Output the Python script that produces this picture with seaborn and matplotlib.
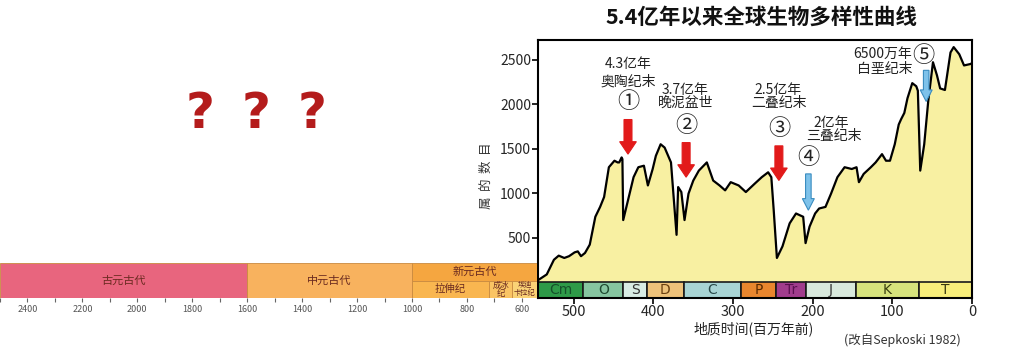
import numpy as np
import pandas as pd
import matplotlib
matplotlib.use("Agg")
import matplotlib.pyplot as plt
import matplotlib.patches as mpatches
import seaborn as sns

# ---------------- data ----------------
ages = [545, 534, 525, 519, 512, 506, 499, 495, 491, 486, 480, 473, 467, 462, 456,
        449, 445, 443, 440, 439, 438, 432, 425, 419, 412, 407, 401, 397, 391, 386,
        378, 375, 371, 369, 365, 361, 356, 350, 343, 333, 325, 317, 310, 303, 293,
        284, 273, 264, 256, 252, 249, 245, 238, 229, 221, 212, 209, 204, 197, 192,
        184, 177, 169, 160, 151, 145, 142, 136, 127, 121, 113, 108, 103, 97, 92,
        89, 85, 81, 75, 70, 68, 65, 60, 55, 49, 44, 40, 34, 27, 23, 16, 10, 2, 0]
genera = [20, 85, 250, 296, 270, 290, 333, 344, 290, 326, 420, 733, 844, 955, 1290,
          1363, 1344, 1344, 1400, 1381, 696, 918, 1178, 1290, 1307, 1085, 1270, 1418, 1548, 1511,
          1344, 993, 530, 1067, 1011, 696, 993, 1140, 1252, 1344, 1140, 1085, 1030, 1122, 1085,
          1011, 1104, 1178, 1233, 1178, 807, 270, 400, 659, 770, 733, 437, 622, 770, 826,
          844, 993, 1178, 1290, 1270, 1290, 1122, 1215, 1290, 1344, 1437, 1363, 1363, 1548, 1770,
          1830, 1900, 2066, 2235, 2200, 2150, 1252, 1548, 2029, 2470, 2323, 2176, 2158, 2580, 2640,
          2560, 2434, 2450, 2460]

period_names = ["Cm", "O", "S", "D", "C", "P", "Tr", "J", "K", "T"]
period_start = [545, 488, 438, 408, 362, 290, 246, 208, 146, 66]
period_end = [488, 438, 408, 362, 290, 246, 208, 146, 66, 0]
period_colors = ["#2E9A48", "#86C5A0", "#D8ECE4", "#EEC27A", "#A8D4D4",
                 "#E8862E", "#A03C8C", "#D8E8DC", "#D6E27C", "#F8EE7A"]
period_text_colors = ["#15502A", "#1F4A30", "#333333", "#6A4010", "#2A4A4A",
                      "#5A2A00", "#5A1050", "#333333", "#3A4010", "#3A3A10"]

era_names = ["古元古代", "中元古代", "新元古代", "拉伸纪", "成冰\n纪", "埃迪\n卡拉纪"]
era_start = [2500, 1600, 1000, 1000, 720, 635]
era_end = [1600, 1000, 545, 720, 635, 545]
era_row = ["full", "full", "top", "bottom", "bottom", "bottom"]
era_colors = ["#E8657E", "#F8B25E", "#F5A640", "#F9B650", "#FAC464", "#FAD276"]
era_font = [8, 8, 8, 7.5, 6, 5.2]

event_text1 = ["4.3亿年", "3.7亿年", "2.5亿年", "2亿年", "6500万年"]
event_text2 = ["奥陶纪末", "晚泥盆世", "二叠纪末", "三叠纪末", "白垩纪末"]
event_nums = ["①", "②", "③", "④", "⑤"]
event_age = [432, 359, 242.5, 205.5, 57.5]
arrow_top = [1826, 1567, 1530, 1215, 2379]
arrow_tip = [1437, 1178, 1141, 807, 2029]
event_kind = ["red", "red", "red", "blue", "blue"]

# ---------------- style ----------------
sns.set_theme(style="white")
plt.rcParams["font.family"] = ["Noto Sans CJK SC", "DejaVu Sans"]

fig = plt.figure(figsize=(10.24, 3.54), dpi=100)

# ---------------- main chart ----------------
ax = fig.add_axes([538 / 1024, 1 - 298 / 354, (972 - 538) / 1024, (298 - 40) / 354])
ax.fill_between(ages, 0, genera, color="#F8F0A2", lw=0, zorder=1)
df = pd.DataFrame({"age": ages, "genera": genera})
sns.lineplot(data=df, x="age", y="genera", ax=ax, color="black", lw=1.6,
             estimator=None, sort=False, zorder=3)

for nm, s, e, c, tc in zip(period_names, period_start, period_end, period_colors, period_text_colors):
    ax.add_patch(mpatches.Rectangle((e, -180), s - e, 180, facecolor=c,
                                    edgecolor="#1a1a1a", lw=1.2, zorder=4))
    ax.text((s + e) / 2, -92, nm, ha="center", va="center", fontsize=10,
            color=tc, zorder=5, family=["DejaVu Sans"])

ax.set_xlim(545, 0)
ax.set_ylim(-180, 2720)
ax.set_yticks([500, 1000, 1500, 2000, 2500])
ax.set_xticks([500, 400, 300, 200, 100, 0])
ax.tick_params(axis="both", direction="out", length=4, width=1.2, color="black",
               labelsize=10, pad=1, left=True, bottom=True)
ax.tick_params(axis="x", labelsize=10.5)
ax.set_xlabel("")
ax.set_ylabel("")
for sp in ax.spines.values():
    sp.set_color("black")
    sp.set_linewidth(1.5)
    sp.set_zorder(6)

# arrows and annotations
for i in range(5):
    if event_kind[i] == "red":
        fc, ec, w, hw, hl = "#E21A1A", "#E21A1A", 10, 21, 140
    else:
        fc, ec, w, hw, hl = "#7EC2EA", "#3A8CC0", 7, 15, 130
    ax.add_patch(mpatches.FancyArrow(event_age[i], arrow_top[i], 0, arrow_tip[i] - arrow_top[i],
                                     width=w, head_width=hw, head_length=hl,
                                     length_includes_head=True, facecolor=fc,
                                     edgecolor=ec, lw=0.8, zorder=5))

txt_pos1 = [(432, 2452), (360, 2158), (243, 2158), (177, 1789), (112, 2562)]
txt_pos2 = [(432, 2250), (360, 2011), (243, 2011), (173, 1641), (110, 2397)]
num_pos = [(432, 2029), (359, 1763), (242.5, 1726), (205.5, 1400), (61, 2544)]
for i in range(5):
    ax.text(*txt_pos1[i], event_text1[i], ha="center", va="center", fontsize=10, color="#222222", zorder=6)
    ax.text(*txt_pos2[i], event_text2[i], ha="center", va="center", fontsize=10, color="#222222", zorder=6)
    ax.text(*num_pos[i], event_nums[i], ha="center", va="center", fontsize=16, color="#222222", zorder=6)

# ---------------- left timescale ----------------
ax0 = fig.add_axes([0, 1 - 298 / 354, 537 / 1024, 35 / 354])
for nm, s, e, r, c, fs in zip(era_names, era_start, era_end, era_row, era_colors, era_font):
    y0, h = {"full": (0, 1), "top": (0.5, 0.5), "bottom": (0, 0.5)}[r]
    ax0.add_patch(mpatches.Rectangle((e, y0), s - e, h, facecolor=c,
                                     edgecolor="#C98A40", lw=0.6))
    ax0.text((s + e) / 2, y0 + h / 2, nm, ha="center", va="center", fontsize=fs,
             color="#6A2A20", linespacing=0.95)
ax0.set_xlim(2500, 545)
ax0.set_ylim(0, 1)
ax0.set_xticks([2400, 2200, 2000, 1800, 1600, 1400, 1200, 1000, 800, 600])
ax0.set_xticks(np.arange(2500, 545, -100), minor=True)
ax0.set_yticks([])
ax0.tick_params(axis="x", which="both", direction="out", length=3, width=0.8,
                color="#666666", labelsize=6.5, labelcolor="#555555", pad=2, bottom=True)
for sp in ax0.spines.values():
    sp.set_visible(False)

# ---------------- texts ----------------
fig.text(761 / 1024, 1 - 17 / 354, "5.4亿年以来全球生物多样性曲线", ha="center", va="center",
         fontsize=15.5, fontweight="bold", color="#111111")
fig.text(486 / 1024, 1 - 176 / 354, "属  的  数  目", rotation=90, ha="center", va="center",
         fontsize=9, color="#333333")
fig.text(754 / 1024, 1 - 329 / 354, "地质时间(百万年前)", ha="center", va="center",
         fontsize=10, color="#222222")
fig.text(902 / 1024, 1 - 340 / 354, "(改自Sepkoski 1982)", ha="center", va="center",
         fontsize=9, color="#333333")
for qx in [200, 256, 312]:
    fig.text(qx / 1024, 1 - 114 / 354, "?", ha="center", va="center", fontsize=36,
             fontweight="bold", color="#B41C1C", family=["DejaVu Sans"])

fig.savefig("out.png", dpi=100)
